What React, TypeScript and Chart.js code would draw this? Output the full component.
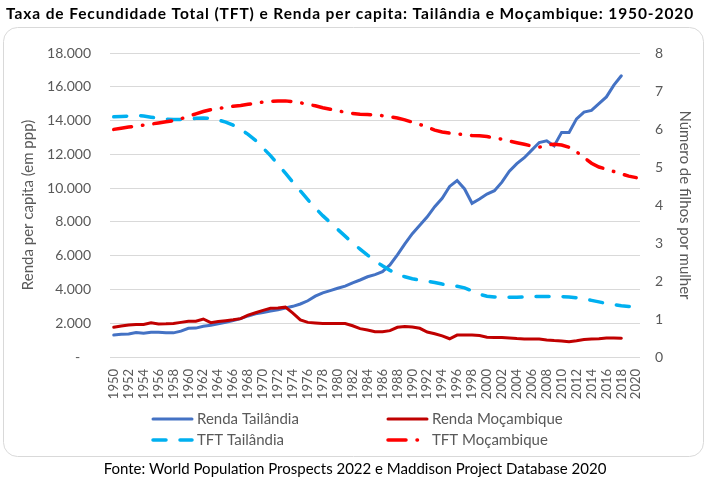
import React, { useEffect, useRef } from 'react';
import { Chart, registerables } from 'chart.js';

Chart.register(...registerables);

const years = [
  '1950', '1951', '1952', '1953', '1954', '1955', '1956', '1957', '1958', '1959',
  '1960', '1961', '1962', '1963', '1964', '1965', '1966', '1967', '1968', '1969',
  '1970', '1971', '1972', '1973', '1974', '1975', '1976', '1977', '1978', '1979',
  '1980', '1981', '1982', '1983', '1984', '1985', '1986', '1987', '1988', '1989',
  '1990', '1991', '1992', '1993', '1994', '1995', '1996', '1997', '1998', '1999',
  '2000', '2001', '2002', '2003', '2004', '2005', '2006', '2007', '2008', '2009',
  '2010', '2011', '2012', '2013', '2014', '2015', '2016', '2017', '2018', '2019',
  '2020',
];

// Renda per capita (ppp), 1950-2018
const rendaTailandia = [
  1300, 1340, 1360, 1450, 1410, 1460, 1470, 1430, 1430, 1530,
  1700, 1710, 1820, 1880, 1960, 2050, 2160, 2270, 2430, 2560,
  2640, 2720, 2790, 2900, 3000, 3140, 3330, 3600, 3800, 3930,
  4070, 4200, 4390, 4560, 4750, 4880, 5050, 5450, 6050, 6700,
  7300, 7800, 8300, 8900, 9400, 10100, 10450, 9950, 9100, 9350,
  9650, 9850, 10350, 11000, 11450, 11800, 12250, 12700, 12800, 12500,
  13300, 13300, 14100, 14500, 14600, 15000, 15400, 16100, 16650,
];

const rendaMocambique = [
  1760, 1840, 1900, 1920, 1930, 2020, 1960, 1970, 1990, 2050,
  2110, 2120, 2250, 2030, 2100, 2150, 2200, 2270, 2480, 2620,
  2760, 2880, 2900, 2950, 2600, 2200, 2050, 2020, 1990, 1990,
  1990, 1980, 1850, 1680, 1600, 1500, 1490, 1560, 1760, 1800,
  1780, 1700, 1480, 1380, 1250, 1080, 1300, 1300, 1300, 1270,
  1170, 1160, 1150, 1120, 1090, 1070, 1070, 1060, 1010, 970,
  950, 900, 960, 1030, 1070, 1080, 1120, 1120, 1110,
];

// TFT (filhos por mulher), 1950-2020
const tftTailandia = [
  6.32, 6.33, 6.34, 6.36, 6.34, 6.31, 6.28, 6.26, 6.25, 6.25,
  6.26, 6.28, 6.29, 6.28, 6.24, 6.18, 6.10, 5.99, 5.86, 5.70,
  5.50, 5.30, 5.07, 4.84, 4.60, 4.37, 4.14, 3.92, 3.72, 3.54,
  3.36, 3.18, 3.00, 2.84, 2.68, 2.53, 2.40, 2.28, 2.18, 2.11,
  2.06, 2.02, 1.99, 1.96, 1.92, 1.89, 1.86, 1.82, 1.74, 1.65,
  1.60, 1.58, 1.57, 1.57, 1.57, 1.58, 1.59, 1.59, 1.59, 1.59,
  1.59, 1.58, 1.56, 1.53, 1.49, 1.45, 1.41, 1.38, 1.35, 1.33,
  1.32,
];

const tftMocambique = [
  5.99, 6.02, 6.05, 6.08, 6.10, 6.13, 6.16, 6.19, 6.22, 6.27,
  6.33, 6.40, 6.46, 6.51, 6.54, 6.57, 6.60, 6.62, 6.65, 6.68,
  6.71, 6.73, 6.74, 6.74, 6.72, 6.69, 6.65, 6.61, 6.56, 6.52,
  6.48, 6.44, 6.41, 6.39, 6.38, 6.37, 6.35, 6.32, 6.29, 6.24,
  6.18, 6.12, 6.05, 5.97, 5.92, 5.89, 5.87, 5.85, 5.83, 5.82,
  5.80, 5.77, 5.73, 5.68, 5.64, 5.60, 5.55, 5.52, 5.58, 5.60,
  5.58, 5.52, 5.40, 5.25, 5.10, 5.00, 4.94, 4.88, 4.82, 4.76,
  4.72,
];

const TITLE = 'Taxa de Fecundidade Total (TFT) e Renda per capita: Tailândia e Moçambique: 1950-2020';
const SOURCE = 'Fonte: World Population Prospects 2022 e Maddison Project Database 2020';
const GREY = '#595959';
const FONT = 'Lato';

// frame, title, source and the two-row legend are drawn by hand
const decorPlugin = {
  id: 'decor',
  beforeDraw(chart: any) {
    const ctx = chart.ctx;
    ctx.save();
    ctx.strokeStyle = '#d9d9d9';
    ctx.lineWidth = 1;
    ctx.beginPath();
    ctx.roundRect(3.5, 27.5, 700, 429, 14);
    ctx.stroke();
    ctx.restore();
  },
  afterDraw(chart: any) {
    const ctx = chart.ctx;
    ctx.save();
    ctx.fillStyle = '#000';
    ctx.textBaseline = 'alphabetic';
    ctx.font = `bold 15.5px ${FONT}`;
    ctx.textAlign = 'left';
    ctx.letterSpacing = '0.9px';
    ctx.fillText(TITLE, 6, 19);
    ctx.letterSpacing = '0px';
    ctx.font = `15px ${FONT}`;
    ctx.textAlign = 'center';
    ctx.fillText(SOURCE, 355, 474);

    const cols = [152, 387];
    const rows = [419, 440];
    chart.data.datasets.forEach((ds: any, i: number) => {
      const x = cols[i % 2];
      const y = rows[Math.floor(i / 2)];
      ctx.strokeStyle = ds.borderColor;
      ctx.lineWidth = ds.borderWidth;
      ctx.lineCap = ds.borderCapStyle || 'butt';
      ctx.setLineDash(ds.borderDash || []);
      ctx.beginPath();
      ctx.moveTo(x + 1, y);
      ctx.lineTo(x + 40, y);
      ctx.stroke();
      ctx.setLineDash([]);
      ctx.fillStyle = GREY;
      ctx.font = `15px ${FONT}`;
      ctx.textAlign = 'left';
      ctx.textBaseline = 'middle';
      ctx.fillText(ds.label, x + 45, y);
    });
    ctx.restore();
  },
};

const thousands = (v: number) =>
  v === 0 ? '-   ' : String(v).replace(/\B(?=(\d{3})+(?!\d))/g, '.');

const App: React.FC = () => {
  const chartRef = useRef<HTMLCanvasElement>(null);
  const chartInstance = useRef<Chart | null>(null);

  useEffect(() => {
    if (!chartRef.current) return;
    if (chartInstance.current) chartInstance.current.destroy();

    chartInstance.current = new Chart(chartRef.current, {
      type: 'line',
      data: {
        labels: years,
        datasets: [
          {
            label: 'Renda Tailândia',
            data: rendaTailandia,
            yAxisID: 'y',
            borderColor: '#4472C4',
            borderWidth: 3,
            borderCapStyle: 'round',
            pointRadius: 0,
            tension: 0,
            order: 3,
          },
          {
            label: 'Renda Moçambique',
            data: rendaMocambique,
            yAxisID: 'y',
            borderColor: '#C00000',
            borderWidth: 3,
            borderCapStyle: 'round',
            pointRadius: 0,
            tension: 0,
            order: 2,
          },
          {
            label: 'TFT Tailândia',
            data: tftTailandia,
            yAxisID: 'y1',
            borderColor: '#00B0F0',
            borderWidth: 3.5,
            borderDash: [13, 14],
            borderCapStyle: 'round',
            pointRadius: 0,
            tension: 0,
            order: 1,
          },
          {
            label: 'TFT Moçambique',
            data: tftMocambique,
            yAxisID: 'y1',
            borderColor: '#FF0000',
            borderWidth: 3.5,
            borderDash: [18, 11, 0.5, 11],
            borderCapStyle: 'round',
            pointRadius: 0,
            tension: 0,
            order: 0,
          },
        ],
      },
      options: {
        responsive: false,
        animation: false,
        layout: { padding: { top: 53, left: 0, right: 0, bottom: 0 } },
        plugins: {
          legend: { display: false },
          tooltip: { enabled: false },
        },
        scales: {
          x: {
            offset: true,
            grid: { display: false, drawTicks: false },
            border: { display: false },
            ticks: {
              autoSkip: false,
              maxRotation: 90,
              minRotation: 90,
              padding: 12,
              color: GREY,
              font: { family: FONT, size: 13 },
              callback: function (this: any, v: any, i: number) {
                return i % 2 === 0 ? this.getLabelForValue(v) : null;
              },
            },
            afterFit: (s: any) => {
              s.height = 123;
            },
          },
          y: {
            position: 'left',
            min: 0,
            max: 18000,
            ticks: {
              stepSize: 2000,
              padding: 19,
              color: GREY,
              font: { family: FONT, size: 14 },
              callback: (v: any) => thousands(Number(v)),
            },
            grid: { color: '#d9d9d9', drawTicks: false },
            border: { display: false },
            title: {
              display: true,
              text: 'Renda per capita (em ppp)',
              color: GREY,
              font: { family: FONT, size: 15 },
              padding: { top: 19, bottom: 0 },
            },
            afterFit: (s: any) => {
              s.width = 110;
            },
          },
          y1: {
            position: 'right',
            min: 0,
            max: 8,
            ticks: {
              stepSize: 1,
              padding: 15,
              color: GREY,
              font: { family: FONT, size: 14 },
            },
            grid: { drawOnChartArea: false, drawTicks: false },
            border: { display: false },
            title: {
              display: true,
              text: 'Número de filhos por mulher',
              color: GREY,
              font: { family: FONT, size: 15 },
              padding: { top: 15, bottom: 0 },
            },
            afterFit: (s: any) => {
              s.width = 69;
            },
          },
        },
      },
      plugins: [decorPlugin],
    });

    return () => {
      if (chartInstance.current) {
        chartInstance.current.destroy();
        chartInstance.current = null;
      }
    };
  }, []);

  return (
    <div style={{ position: 'absolute', left: 0, top: 0, width: 709, height: 480, background: '#fff' }}>
      <canvas ref={chartRef} width={709} height={480} style={{ display: 'block' }} />
    </div>
  );
};

export default App;
